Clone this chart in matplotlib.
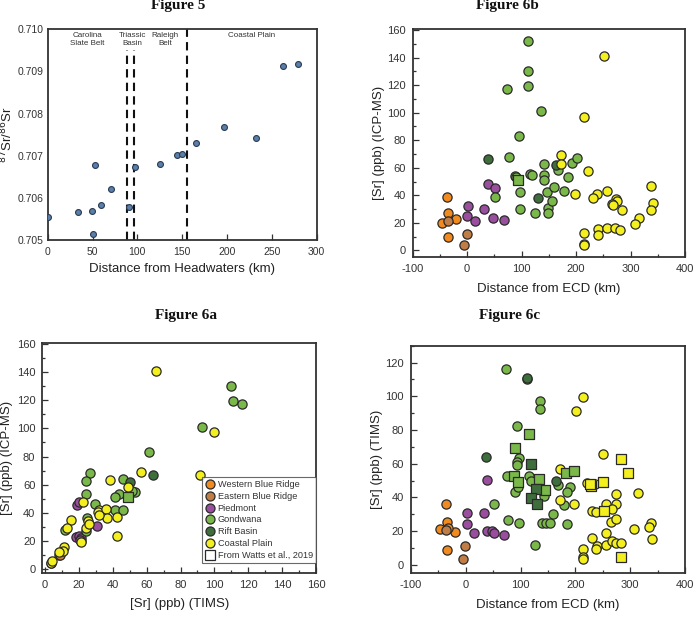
import matplotlib
matplotlib.use("Agg")
import matplotlib.pyplot as plt
from matplotlib.ticker import MultipleLocator, FormatStrFormatter
from matplotlib.lines import Line2D

plt.rcParams['font.family'] = ['Liberation Sans', 'DejaVu Sans']
plt.rcParams['axes.unicode_minus'] = False

# ---------------- Figure 5 data ----------------
f5_dist = [0, 33.5, 49.4, 51, 53.2, 59.9, 71, 90.7, 97, 125.3, 144.6, 149.4, 165, 197, 232.7, 262.8, 279.6]
f5_ratio = [0.70555, 0.70567, 0.70569, 0.70514, 0.70678, 0.70582, 0.70621, 0.70578, 0.70674,
            0.70680, 0.70702, 0.70703, 0.70731, 0.70767, 0.70741, 0.70912, 0.70918]
f5_bounds = [88.5, 96.7, 155.8]
f5_regions = ["Carolina\nSlate Belt", "Triassic\nBasin", "Raleigh\nBelt", "Coastal Plain"]
f5_region_x = [44, 94, 131, 227]

# ---------------- Groups ----------------
groups = ["Western Blue Ridge", "Eastern Blue Ridge", "Piedmont", "Gondwana", "Rift Basin", "Coastal Plain"]
colors = ["#f28b1f", "#c07d46", "#9a4e9e", "#7bb84a", "#3f6e3d", "#f4ef1e"]

# ---------------- Figure 6b: distance vs ICP-MS ----------------
b_wbr_x = [-36.5, -34.6, -46.8, -20.5, -34.6]
b_wbr_y = [38.8, 27.1, 20.1, 23.0, 9.9]
b_ebr_x = [-35.7, -0.9, -6.4]
b_ebr_y = [21.1, 12.1, 3.9]
b_pied_x = [38.8, 51.6, 1.5, 30.9, 0.2, 14.9, 48, 68.2]
b_pied_y = [48.2, 45.1, 32, 30.3, 25.2, 21.3, 23.3, 22.3]
b_gond_x = [112.2, 111.7, 111.7, 73.7, 135.5, 94.6, 76.2, 51.6, 88.5, 90.5, 115.9, 118.5, 140.5, 140.5,
            140.5, 97, 97, 125, 146, 149, 149, 167.3, 191.9, 202.2, 185.7, 159.4, 178.3, 156.3]
b_gond_y = [152.2, 130, 119, 117.3, 101, 83.4, 68.1, 39, 54, 53, 55.3, 55, 63, 55,
            51, 42.2, 30.3, 27.1, 42.4, 31, 27, 58.2, 63.8, 67.2, 53.1, 46.1, 43.4, 35.9]
b_rift_x = [37.7, 129.5, 163.1]
b_rift_y = [66.2, 38.0, 62.3]
b_coast_x = [171.7, 171.7, 222.4, 214.5, 251.2, 197.4, 237.8, 230.4, 256.1, 273.2, 274.4, 265.3, 267,
             283.7, 337, 340.6, 337.5, 314.9, 308.1, 214.5, 214.5, 214.5, 239.6, 239.6, 256.1, 271.9, 280.6]
b_coast_y = [69.1, 63, 58, 97, 141.1, 41.2, 41.2, 38, 43.1, 37.1, 36, 33.5, 33,
             29.1, 47, 34.4, 29.1, 23.3, 19.2, 12.9, 4.9, 3.7, 15.3, 10.9, 16.5, 16.5, 15.1]
b_watts_gond_x = [93.9]
b_watts_gond_y = [51.4]

# ---------------- Figure 6a: TIMS vs ICP-MS ----------------
a_wbr_x = [21, 19, 8.5]
a_wbr_y = [20, 23, 10]
a_ebr_x = [9.6, 8.7, 3.5]
a_ebr_y = [11.8, 10.2, 4]
a_pied_x = [19.1, 19.9, 30.9, 18.5, 19.9, 21.1, 20.5]
a_pied_y = [45.7, 48, 30.3, 22.8, 23.2, 22.0, 21]
a_gond_x = [110, 111, 116.3, 92.5, 61.2, 26.6, 24.4, 46.2, 24.4, 43.5, 41.1, 52.9, 29.7, 41.1, 46,
            24.8, 11.9, 24.2, 51.5]
a_gond_y = [130.1, 119.2, 117.1, 101, 83.2, 68.5, 62.8, 64, 53.5, 53.6, 51.2, 54.8, 46.2, 42.2, 42.2,
            36, 27.5, 27, 55.5]
a_rift_x = [63.9, 50.2]
a_rift_y = [66.6, 62.1]
a_coast_x = [65.6, 100, 91.3, 56.5, 38.6, 49, 22.2, 31.7, 31.3, 36, 36.4, 42.3, 31.9, 25.4, 24.4,
             15.2, 13, 21.4, 42.3, 11.2, 10.6, 8.5, 3.7, 4.4, 26.2]
a_coast_y = [141, 97.2, 67.1, 69, 63, 58.5, 47.4, 42.2, 40.3, 42.7, 36, 37.2, 38.7, 33.9, 29.4,
             34.6, 28.9, 19.4, 23.2, 15.6, 13.2, 12, 4.3, 5.4, 32.2]
a_watts_gond_x = [49]
a_watts_gond_y = [51.2]

# ---------------- Figure 6c: distance vs TIMS ----------------
c_wbr_x = [-36.4, -34.7, -46.3, -19.4, -34, -33]
c_wbr_y = [36.3, 25.3, 21.5, 19.5, 8.9, 22]
c_ebr_x = [-35.9, -1.1, -5.5]
c_ebr_y = [20.7, 11.4, 3.4]
c_pied_x = [39.1, 1.8, 32.4, 1.3, 15.4, 38.4, 47.6, 51.2, 69]
c_pied_y = [50.1, 31, 30.8, 24.1, 18.8, 20.3, 20.1, 19.1, 17.8]
c_gond_x = [73.2, 112.3, 136, 135.4, 94, 97, 94, 94, 75, 89.1, 96, 114.7, 118.3, 143, 51.2, 76.8,
            96.4, 125.7, 139, 147, 153, 168.4, 189.7, 185.5, 178.7, 159.2, 185.5]
c_gond_y = [116, 110, 97.3, 92.5, 82.1, 63.2, 61, 59, 52.9, 43.4, 46, 52.7, 49.9, 41, 35.9, 26.6,
            25.1, 11.8, 24.7, 24.7, 25, 47.2, 46.4, 43, 35.3, 30, 24.5]
c_rift_x = [37.3, 164.1, 111]
c_rift_y = [63.9, 49.9, 110.7]
c_coast_x = [214.7, 201.9, 250.6, 171.4, 171.4, 197.6, 222, 236, 230.4, 237.7, 255.5, 273.2, 273.2,
             265.9, 264.7, 273.8, 314.1, 307.4, 337.4, 334.8, 339.7, 229.6, 255.2, 240.2, 238.4,
             255.5, 267, 274.4, 283, 214, 214, 214]
c_coast_y = [99.3, 91.2, 65.5, 56.6, 38.5, 35.9, 48.7, 48, 31.8, 31.4, 35.9, 42, 36,
             33, 25.5, 27.4, 42.4, 21.1, 24.9, 22.3, 15.2, 16.2, 19.1, 11.4, 9.3,
             12, 14.2, 12.8, 13.2, 9.3, 4.5, 3.5]
c_watts_gond_x = [114.7, 89.7, 88.5, 95.1, 133.6, 145.2, 183.6, 198.2]
c_watts_gond_y = [77.6, 69.5, 52.9, 49.3, 50.7, 44.4, 54.7, 55.7]
c_watts_rift_x = [118.3, 127.5, 118.3, 129.3]
c_watts_rift_y = [59.8, 45, 39.5, 35.9]
c_watts_coast_x = [283.6, 295.2, 229.3, 226, 250.6, 252.4, 283]
c_watts_coast_y = [62.6, 54.3, 47, 48, 49.3, 32, 4.5]

W, H = 699, 624
fig = plt.figure(figsize=(W / 100, H / 100), dpi=100)

def fr(l, t, r, b):
    return [l / W, 1 - b / H, (r - l) / W, (b - t) / H]

EDGE = "#2a2a2a"
CS = 44
SS = 50

def style(ax, xmaj, xmin, ymaj, ymin):
    for s in ax.spines.values():
        s.set_linewidth(1.3)
        s.set_color("#333333")
    ax.xaxis.set_major_locator(MultipleLocator(xmaj))
    ax.xaxis.set_minor_locator(MultipleLocator(xmin))
    ax.yaxis.set_major_locator(MultipleLocator(ymaj))
    ax.yaxis.set_minor_locator(MultipleLocator(ymin))
    ax.tick_params(which='both', direction='in', top=False, right=False, labelsize=8,
                   colors="#333333", width=0.9)
    ax.tick_params(which='major', length=4, pad=5)
    ax.tick_params(which='minor', length=2.5)

def scatter_groups(ax, data, marker='o', s=CS):
    for (xs, ys), col in zip(data, colors):
        if xs:
            ax.scatter(xs, ys, s=s, c=col, edgecolors=EDGE, linewidths=0.9, marker=marker, zorder=3)

def labels(ax, xl, yl, xly, ylx):
    ax.set_xlabel(xl, fontsize=9.5, color="#222222")
    ax.set_ylabel(yl, fontsize=9.5, color="#222222")
    ax.xaxis.set_label_coords(0.5, xly)
    ax.yaxis.set_label_coords(ylx, 0.5)

# ---- Figure 5 ----
ax5 = fig.add_axes(fr(47.7, 29.3, 316.7, 240))
ax5.scatter(f5_dist, f5_ratio, s=18, c="#5a7fab", edgecolors="#2b3b52", linewidths=0.8, zorder=3)
for i, bx in enumerate(f5_bounds):
    top = 0.7100 if i == 2 else 0.70951
    ax5.plot([bx, bx], [0.705, top], ls=(0, (4, 2.5)), color="#111111", lw=1.5, zorder=2)
for lab, rx in zip(f5_regions, f5_region_x):
    ax5.text(rx, 0.70993, lab, ha='center', va='top', fontsize=5.8, color="#333333", linespacing=1.1)
ax5.set_xlim(0, 300)
ax5.set_ylim(0.705, 0.710)
style(ax5, 50, 50, 0.001, 0.001)
ax5.tick_params(axis='y', which='both', length=0, pad=3)
ax5.yaxis.set_major_formatter(FormatStrFormatter('%.3f'))
ax5.tick_params(labelsize=7.5)
labels(ax5, "Distance from Headwaters (km)", "$^{87}$Sr/$^{86}$Sr", -0.108, -0.12)

# ---- Figure 6b ----
axb = fig.add_axes(fr(412.7, 29.3, 685, 257.3))
scatter_groups(axb, [(b_wbr_x, b_wbr_y), (b_ebr_x, b_ebr_y), (b_pied_x, b_pied_y),
                     (b_gond_x, b_gond_y), (b_rift_x, b_rift_y), (b_coast_x, b_coast_y)])
axb.scatter(b_watts_gond_x, b_watts_gond_y, s=SS, c=colors[3], edgecolors=EDGE, linewidths=0.9, marker='s', zorder=4)
axb.set_xlim(-100, 400)
axb.set_ylim(-5, 160.5)
style(axb, 100, 50, 20, 10)
labels(axb, "Distance from ECD (km)", "[Sr] (ppb) (ICP-MS)", -0.111, -0.102)

# ---- Figure 6a ----
axa = fig.add_axes(fr(42.3, 343.3, 316, 573.3))
scatter_groups(axa, [(a_wbr_x, a_wbr_y), (a_ebr_x, a_ebr_y), (a_pied_x, a_pied_y),
                     (a_gond_x, a_gond_y), (a_rift_x, a_rift_y), (a_coast_x, a_coast_y)])
axa.scatter(a_watts_gond_x, a_watts_gond_y, s=SS, c=colors[3], edgecolors=EDGE, linewidths=0.9, marker='s', zorder=3)
axa.set_xlim(-1.6, 160)
axa.set_ylim(-3, 160.5)
style(axa, 20, 10, 20, 10)
labels(axa, "[Sr] (ppb) (TIMS)", "[Sr] (ppb) (ICP-MS)", -0.109, -0.106)
handles = [Line2D([], [], ls='none', marker='o', ms=6.5, mfc=c, mec=EDGE, mew=0.9) for c in colors]
handles.append(Line2D([], [], ls='none', marker='s', ms=6.5, mfc='white', mec=EDGE, mew=0.9))
leg = axa.legend(handles, groups + ["From Watts et al., 2019"], loc='lower right',
                 bbox_to_anchor=(1.0, 0.045), borderaxespad=0, fontsize=6.6, frameon=True,
                 fancybox=False, handletextpad=0.2, labelspacing=0.3, borderpad=0.35,
                 handlelength=1.2)
leg.get_frame().set_edgecolor("#444444")
leg.get_frame().set_linewidth(0.8)
for t in leg.get_texts():
    t.set_color("#333333")

# ---- Figure 6c ----
axc = fig.add_axes(fr(411, 345.7, 685, 573.3))
scatter_groups(axc, [(c_wbr_x, c_wbr_y), (c_ebr_x, c_ebr_y), (c_pied_x, c_pied_y),
                     (c_gond_x, c_gond_y), (c_rift_x, c_rift_y), (c_coast_x, c_coast_y)])
for xs, ys, col in [(c_watts_gond_x, c_watts_gond_y, colors[3]),
                    (c_watts_rift_x, c_watts_rift_y, colors[4]),
                    (c_watts_coast_x, c_watts_coast_y, colors[5])]:
    axc.scatter(xs, ys, s=SS, c=col, edgecolors=EDGE, linewidths=0.9, marker='s', zorder=4)
axc.set_xlim(-100, 400)
axc.set_ylim(-5, 130)
style(axc, 100, 50, 20, 10)
labels(axc, "Distance from ECD (km)", "[Sr] (ppb) (TIMS)", -0.114, -0.101)

# ---- Titles ----
tkw = dict(ha='center', va='center', fontsize=11, fontweight='bold',
           family=['Liberation Serif', 'DejaVu Serif'], color="#111111")
fig.text(178 / W, 1 - 6 / H, "Figure 5", **tkw)
fig.text(507 / W, 1 - 6 / H, "Figure 6b", **tkw)
fig.text(186 / W, 1 - 315 / H, "Figure 6a", **tkw)
fig.text(510 / W, 1 - 315 / H, "Figure 6c", **tkw)

fig.savefig("out.png", dpi=100, facecolor='white')
